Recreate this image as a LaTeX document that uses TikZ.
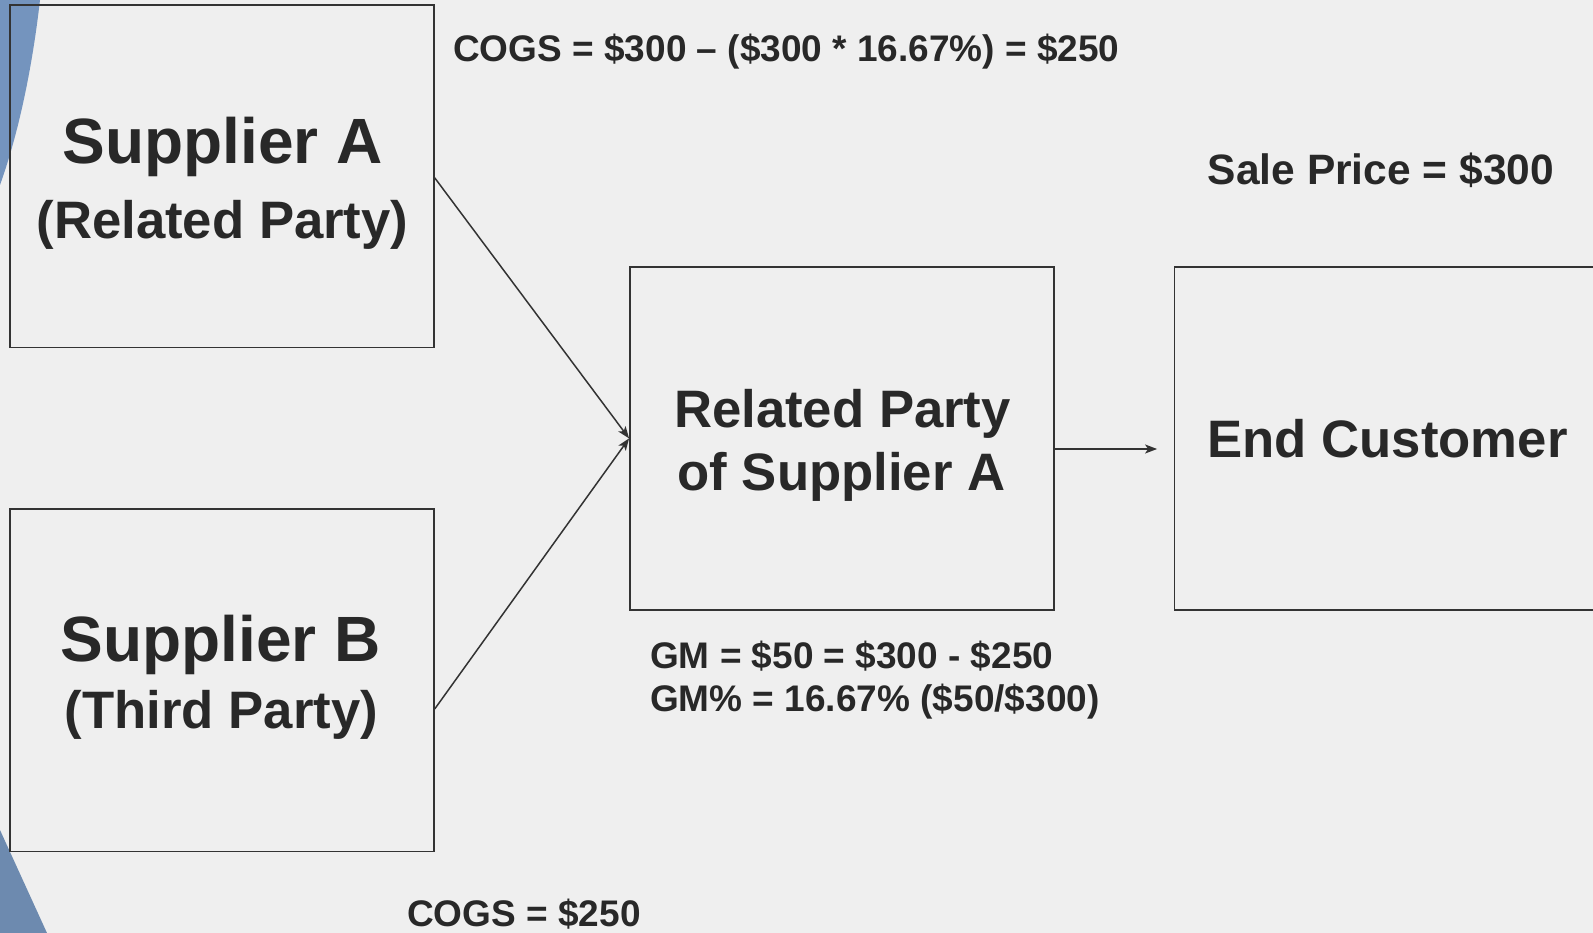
\documentclass[tikz,border=0pt]{standalone}
\usepackage{fontspec}
\setmainfont{Liberation Sans}
\usetikzlibrary{arrows.meta}
\definecolor{bgc}{HTML}{EFEFEF}
\definecolor{ink}{HTML}{282828}
\definecolor{linec}{HTML}{333333}
\definecolor{blueA}{HTML}{7494BE}
\definecolor{blueB}{HTML}{6D8AAF}
\tikzset{
  box/.style={draw=linec, line width=1.8pt, rectangle, inner sep=0pt,
    minimum width=423.6pt, minimum height=342.4pt},
  big/.style={inner sep=0pt, anchor=base, text=ink, font=\bfseries\fontsize{64}{70}\selectfont},
  mid/.style={inner sep=0pt, anchor=base, text=ink, font=\bfseries\fontsize{52.7}{60}\selectfont},
  small/.style={inner sep=0pt, anchor=base west, text=ink, font=\bfseries\fontsize{37}{42}\selectfont},
  arr/.style={draw=linec, line width=1.5pt, -{Stealth[length=12pt,width=9pt,inset=3pt]}}
}
\begin{document}
\begin{tikzpicture}[x=1pt,y=-1pt]
\useasboundingbox (0,0) rectangle (1593,933);
\clip (0,0) rectangle (1593,933);
\fill[bgc] (0,0) rectangle (1593,933);
% decorative shapes
\fill[blueA] (0,0) -- (40,0) .. controls (32,70) and (18,135) .. (0,185) -- cycle;
\fill[blueB] (0,830) -- (47,933) -- (0,933) -- cycle;
% boxes
\node[box] (A) at (222,176.3) {};
\node[box] (B) at (222,680.3) {};
\node[box] (R) at (841.8,438.4) {};
\node[box] (E) at (1386.3,438.4) {};
% box texts
\node[big] (tA1) at (222.5,163.3) {Supplier A};
\node[mid] (tA2) at (222.5,238.3) {(Related Party)};
\node[big] (tB1) at (220.5,661.7) {Supplier B};
\node[mid] (tB2) at (221.5,728.3) {(Third Party)};
\node[mid] (tR1) at (842.5,427) {Related Party};
\node[mid] (tR2) at (841.5,490) {of Supplier A};
\node[mid] (tE) at (1387.5,457.3) {End Customer};
% labels
\node[inner sep=0pt, anchor=base, text=ink, font=\bfseries\fontsize{42.5}{48}\selectfont] (sp) at (1381,185) {Sale Price = \$300};
\node[small] (cg1) at (453,62) {COGS = \$300 – (\$300 * 16.67\%) = \$250};
\node[small] (gm1) at (650,668.3) {GM = \$50 = \$300 - \$250};
\node[small] (gm2) at (650,711.7) {GM\% = 16.67\% (\$50/\$300)};
\node[small] (cg2) at (407,926.6) {COGS = \$250};
% connectors
\draw[arr] ([yshift=-1.5pt]A.east) -- (R.west);
\draw[arr] ([yshift=-28.7pt]B.east) -- (R.west);
\draw[arr] ([yshift=-10.6pt]R.east) -- ([xshift=-16.5pt,yshift=-10.6pt]E.west);
\end{tikzpicture}
\end{document}
